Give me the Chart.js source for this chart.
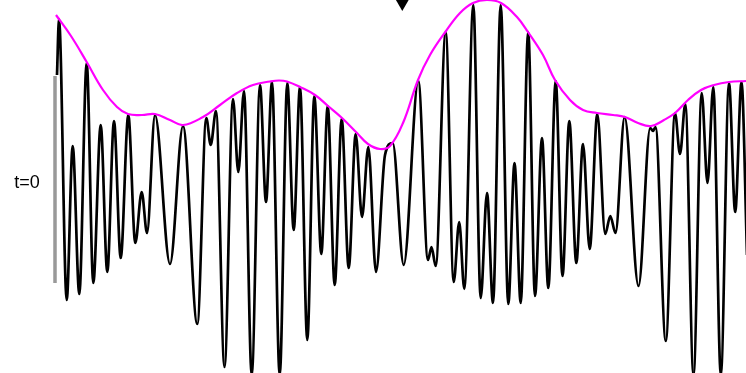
<!DOCTYPE html>
<html>
<head>
<meta charset="utf-8">
<title>envelope</title>
<script src="https://cdn.jsdelivr.net/npm/chart.js@4.4.0/dist/chart.umd.min.js"></script>
<style>
  html, body { margin: 0; padding: 0; background: #fff; overflow: hidden; }
  canvas { display: block; }
</style>
</head>
<body>
<canvas id="wave" width="746" height="373"></canvas>
<script>
// signal: peaks / troughs (t in ms, amplitude in a.u.)
var signalT = [0, 0.2, 0.97, 1.57, 2.23, 2.97, 3.63, 4.37, 5.03, 5.7, 6.37, 7.13, 7.83, 8.47, 9.0, 9.8,
  11.3, 12.6, 14.03, 14.93, 15.37, 15.9, 16.75, 17.6, 18.13, 18.7, 19.47, 20.3, 20.9, 21.5, 22.27,
  23.03, 23.67, 24.3, 25.03, 25.73, 26.43, 27.07, 27.77, 28.47, 29.17, 29.87, 30.5, 31.13, 31.9,
  32.8, 33.57, 34.67, 36.13, 37.1, 37.45, 37.87, 38.87, 39.67, 40.22, 40.73, 41.63, 42.37, 43.0,
  43.6, 44.37, 45.13, 45.75, 46.37, 47.12, 47.8, 48.5, 49.13, 49.87, 50.55, 51.23, 51.93, 52.6,
  53.27, 54.03, 54.82, 55.33, 55.85, 56.76, 58.15, 59.32, 59.6, 59.85, 60.88, 61.8, 62.3, 62.83,
  63.65, 64.47, 65.05, 65.63, 66.38, 67.2, 67.82, 68.45, 69.0];
var signalA = [1.12, 1.68, -1.13, 0.41, -1.07, 1.24, -0.96, 0.62, -0.85, 0.66, -0.71, 0.72, -0.56, -0.05, -0.46, 0.72,
  -0.77, 0.61, -1.37, 0.69, 0.42, 0.76, -1.80, 0.88, 0.15, 0.96, -1.88, 1.02, -0.15, 1.05, -1.88,
  1.04, -0.43, 1.00, -1.53, 0.91, -0.67, 0.81, -0.98, 0.68, -0.81, 0.53, -0.30, 0.40, -0.85,
  0.32, 0.44, -0.78, 1.06, -0.73, -0.60, -0.79, 1.55, -0.95, -0.35, -1.02, 1.82, -1.11, -0.06,
  -1.16, 1.82, -1.17, 0.24, -1.16, 1.55, -1.09, 0.49, -1.01, 1.06, -0.89, 0.66, -0.76, 0.43,
  -0.62, 0.73, -0.47, -0.29, -0.46, 0.70, -0.99, 0.59, 0.56, 0.60, -1.54, 0.74, 0.33, 0.83,
  -1.88, 0.94, 0.04, 1.00, -1.88, 1.04, -0.25, 1.05, -0.68];

// envelope (magenta)
var envT = [-0.1, 1.4, 2.97, 4.6, 6.0, 7.1, 8.5, 9.8, 11.3, 12.6, 14.6, 16.3, 18.0, 19.6, 21.3, 22.2, 23.0, 24.3,
  25.8, 27.1, 28.5, 30.0, 31.1, 32.3, 33.3, 34.6, 36.1, 37.3, 38.9, 40.3, 41.6, 43.0, 44.4, 46.0,
  47.1, 48.6, 49.8, 51.3, 52.6, 54.0, 55.6, 56.8, 58.1, 59.4, 60.7, 61.8, 63.1, 64.4, 65.7, 67.2, 68.9];
var envA = [1.72, 1.51, 1.25, 0.97, 0.80, 0.73, 0.72, 0.73, 0.67, 0.62, 0.70, 0.82, 0.94, 1.02, 1.055, 1.065, 1.055, 1.00,
  0.92, 0.81, 0.69, 0.54, 0.43, 0.38, 0.41, 0.64, 1.07, 1.32, 1.56, 1.74, 1.84, 1.87, 1.84, 1.70,
  1.55, 1.32, 1.07, 0.87, 0.77, 0.74, 0.72, 0.70, 0.64, 0.61, 0.67, 0.74, 0.87, 0.97, 1.02, 1.05, 1.06];

// amplitude scale bar at t=0
var barT = [-0.2, -0.2];
var barA = [1.11, -0.96];

// marker above the trace
var markerT = [34.53];
var markerA = [1.835];

var labelText = "t=0";
var labelT = -3.0;
var labelA = 0.04;

function pts(xs, ys) {
  return xs.map(function (x, i) { return { x: x, y: ys[i] }; });
}

var labelPlugin = {
  id: "t0label",
  afterDraw: function (chart) {
    var ctx = chart.ctx;
    ctx.save();
    ctx.fillStyle = "#000";
    ctx.font = "18px 'Liberation Sans', Arial, sans-serif";
    ctx.textAlign = "center";
    ctx.textBaseline = "middle";
    ctx.fillText(labelText, chart.scales.x.getPixelForValue(labelT), chart.scales.y.getPixelForValue(labelA));
    ctx.restore();
  }
};

window.onload = function () {
  var ctx = document.getElementById("wave").getContext("2d");
  new Chart(ctx, {
    type: "line",
    data: {
      datasets: [
        {
          label: "envelope",
          data: pts(envT, envA),
          borderColor: "#ff00ff",
          borderWidth: 2.2,
          pointRadius: 0,
          tension: 0.4,
          fill: false
        },
        {
          label: "signal",
          data: pts(signalT, signalA),
          borderColor: "#000",
          borderWidth: 2.7,
          pointRadius: 0,
          cubicInterpolationMode: "monotone",
          fill: false
        },
        {
          label: "marker",
          data: pts(markerT, markerA),
          showLine: false,
          pointStyle: "triangle",
          rotation: 180,
          pointRadius: 7.5,
          pointBackgroundColor: "#000",
          pointBorderWidth: 0
        },
        {
          label: "scale",
          data: pts(barT, barA),
          borderColor: "#999",
          borderWidth: 3.5,
          borderCapStyle: "butt",
          pointRadius: 0
        }
      ]
    },
    options: {
      responsive: false,
      animation: false,
      layout: { padding: 0, autoPadding: false },
      scales: {
        x: { type: "linear", min: -5.7, max: 68.9, display: false },
        y: { min: -1.86, max: 1.87, display: false }
      },
      plugins: {
        legend: { display: false },
        tooltip: { enabled: false }
      }
    },
    plugins: [labelPlugin]
  });
};
</script>
</body>
</html>
